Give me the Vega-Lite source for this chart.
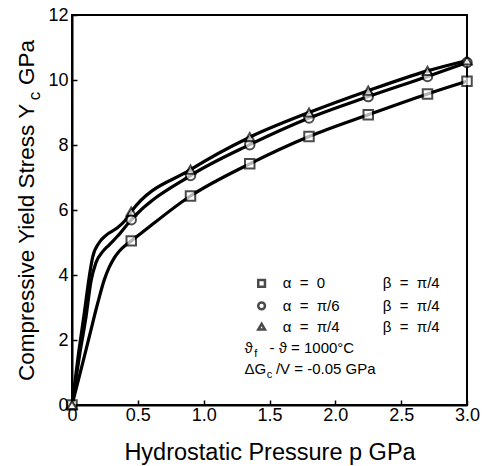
{
  "$schema": "https://vega.github.io/schema/vega-lite/v6.json",
  "width": 395,
  "height": 390,
  "autosize": "none",
  "padding": {"left": 72, "top": 15, "right": 15, "bottom": 61},
  "background": "white",
  "config": {
    "view": {"stroke": "black", "strokeWidth": 2},
    "font": "Liberation Sans",
    "axis": {
      "domainColor": "black", "domainWidth": 2,
      "tickColor": "black", "tickWidth": 1.5, "tickSize": -5,
      "labelFont": "Liberation Sans", "labelFontSize": 18, "labelColor": "black",
      "titleFont": "Liberation Sans", "titleFontWeight": "normal", "titleColor": "black",
      "grid": false
    }
  },
  "datasets": {
    "curves": [
      {"s": "a0", "p": 0, "y": 0}, {"s": "a0", "p": 0.068, "y": 1.08}, {"s": "a0", "p": 0.131, "y": 2.1}, {"s": "a0", "p": 0.195, "y": 3.13}, {"s": "a0", "p": 0.245, "y": 3.85}, {"s": "a0", "p": 0.283, "y": 4.24}, {"s": "a0", "p": 0.32, "y": 4.52}, {"s": "a0", "p": 0.36, "y": 4.74}, {"s": "a0", "p": 0.42, "y": 4.96}, {"s": "a0", "p": 0.45, "y": 5.05}, {"s": "a0", "p": 0.9, "y": 6.43}, {"s": "a0", "p": 1.35, "y": 7.42}, {"s": "a0", "p": 1.8, "y": 8.26}, {"s": "a0", "p": 2.25, "y": 8.93}, {"s": "a0", "p": 2.7, "y": 9.57}, {"s": "a0", "p": 3.0, "y": 9.96},
      {"s": "a6", "p": 0, "y": 0}, {"s": "a6", "p": 0.06, "y": 1.6}, {"s": "a6", "p": 0.106, "y": 2.7}, {"s": "a6", "p": 0.144, "y": 3.8}, {"s": "a6", "p": 0.182, "y": 4.38}, {"s": "a6", "p": 0.233, "y": 4.72}, {"s": "a6", "p": 0.283, "y": 4.93}, {"s": "a6", "p": 0.347, "y": 5.2}, {"s": "a6", "p": 0.45, "y": 5.7}, {"s": "a6", "p": 0.9, "y": 7.06}, {"s": "a6", "p": 1.35, "y": 8.01}, {"s": "a6", "p": 1.8, "y": 8.83}, {"s": "a6", "p": 2.25, "y": 9.49}, {"s": "a6", "p": 2.7, "y": 10.11}, {"s": "a6", "p": 3.0, "y": 10.54},
      {"s": "a4", "p": 0, "y": 0}, {"s": "a4", "p": 0.05, "y": 1.6}, {"s": "a4", "p": 0.094, "y": 2.85}, {"s": "a4", "p": 0.131, "y": 3.95}, {"s": "a4", "p": 0.157, "y": 4.55}, {"s": "a4", "p": 0.207, "y": 5.0}, {"s": "a4", "p": 0.258, "y": 5.22}, {"s": "a4", "p": 0.334, "y": 5.42}, {"s": "a4", "p": 0.4, "y": 5.66}, {"s": "a4", "p": 0.45, "y": 5.95}, {"s": "a4", "p": 0.9, "y": 7.24}, {"s": "a4", "p": 1.35, "y": 8.24}, {"s": "a4", "p": 1.8, "y": 9.0}, {"s": "a4", "p": 2.25, "y": 9.67}, {"s": "a4", "p": 2.7, "y": 10.28}, {"s": "a4", "p": 3.0, "y": 10.6}
    ],
    "markers": [
      {"s": "a0", "p": 0, "y": 0}, {"s": "a0", "p": 0.45, "y": 5.05}, {"s": "a0", "p": 0.9, "y": 6.43}, {"s": "a0", "p": 1.35, "y": 7.42}, {"s": "a0", "p": 1.8, "y": 8.26}, {"s": "a0", "p": 2.25, "y": 8.93}, {"s": "a0", "p": 2.7, "y": 9.57}, {"s": "a0", "p": 3.0, "y": 9.96},
      {"s": "a6", "p": 0.45, "y": 5.7}, {"s": "a6", "p": 0.9, "y": 7.06}, {"s": "a6", "p": 1.35, "y": 8.01}, {"s": "a6", "p": 1.8, "y": 8.83}, {"s": "a6", "p": 2.25, "y": 9.49}, {"s": "a6", "p": 2.7, "y": 10.11}, {"s": "a6", "p": 3.0, "y": 10.54},
      {"s": "a4", "p": 0, "y": 0}, {"s": "a4", "p": 0.45, "y": 5.95}, {"s": "a4", "p": 0.9, "y": 7.24}, {"s": "a4", "p": 1.35, "y": 8.24}, {"s": "a4", "p": 1.8, "y": 9.0}, {"s": "a4", "p": 2.25, "y": 9.67}, {"s": "a4", "p": 2.7, "y": 10.28}, {"s": "a4", "p": 3.0, "y": 10.6}
    ],
    "legendSymbols": [
      {"s": "a0", "p": 1.44, "y": 3.74},
      {"s": "a6", "p": 1.44, "y": 3.05},
      {"s": "a4", "p": 1.44, "y": 2.41}
    ],
    "legendText": [
      {"p": 1.6, "y": 3.74, "label": "α\u00a0\u00a0=\u00a0\u00a00"},
      {"p": 1.6, "y": 3.05, "label": "α\u00a0\u00a0=\u00a0\u00a0π/6"},
      {"p": 1.6, "y": 2.41, "label": "α\u00a0\u00a0=\u00a0\u00a0π/4"},
      {"p": 2.36, "y": 3.74, "label": "β\u00a0\u00a0=\u00a0\u00a0π/4"},
      {"p": 2.36, "y": 3.05, "label": "β\u00a0\u00a0=\u00a0\u00a0π/4"},
      {"p": 2.36, "y": 2.41, "label": "β\u00a0\u00a0=\u00a0\u00a0π/4"},
      {"p": 1.31, "y": 1.74, "label": "ϑ"},
      {"p": 1.5, "y": 1.74, "label": "-\u00a0ϑ\u00a0=\u00a01000°C"},
      {"p": 1.31, "y": 1.1, "label": "ΔG"},
      {"p": 1.549, "y": 1.1, "label": "/V\u00a0=\u00a0-0.05\u00a0GPa"}
    ],
    "subText": [
      {"p": 1.385, "y": 1.58, "label": "f"},
      {"p": 1.48, "y": 0.92, "label": "c"}
    ],
    "titleSub": [
      {"p": -0.281, "y": 9.51, "label": "c"}
    ]
  },
  "layer": [
    {
      "data": {"name": "curves"},
      "mark": {"type": "line", "color": "black", "strokeWidth": 3.2, "interpolate": "monotone"},
      "encoding": {
        "x": {"field": "p", "type": "quantitative", "scale": {"domain": [0, 3], "nice": false},
          "axis": {"values": [0, 0.5, 1, 1.5, 2, 2.5, 3], "labelExpr": "datum.value == 0 ? '0' : format(datum.value, '.1f')", "title": "Hydrostatic Pressure p GPa", "titleFontSize": 23.5, "labelPadding": 6, "titlePadding": 16, "labelFlush": false}},
        "y": {"field": "y", "type": "quantitative", "scale": {"domain": [0, 12], "nice": false},
          "axis": {"values": [0, 2, 4, 6, 8, 10, 12], "title": "Compressive Yield Stress Y\u00a0\u00a0\u00a0GPa", "titleFontSize": 22.5, "labelPadding": 9, "titlePadding": 9}},
        "detail": {"field": "s"}
      }
    },
    {
      "data": {"name": "markers"},
      "mark": {"type": "point", "filled": true, "fill": "white", "stroke": "black", "strokeWidth": 2, "size": 90},
      "encoding": {
        "x": {"field": "p", "type": "quantitative"},
        "y": {"field": "y", "type": "quantitative"},
        "shape": {"field": "s", "type": "nominal", "scale": {"domain": ["a0", "a6", "a4"], "range": ["square", "circle", "triangle-up"]}, "legend": null}
      }
    },
    {
      "data": {"name": "legendSymbols"},
      "mark": {"type": "point", "filled": true, "fill": "white", "stroke": "black", "strokeWidth": 2.5, "size": 45},
      "encoding": {
        "x": {"field": "p", "type": "quantitative"},
        "y": {"field": "y", "type": "quantitative"},
        "shape": {"field": "s", "type": "nominal", "legend": null}
      }
    },
    {
      "data": {"name": "legendText"},
      "mark": {"type": "text", "align": "left", "baseline": "middle", "fontSize": 15, "color": "black", "font": "Liberation Sans"},
      "encoding": {
        "x": {"field": "p", "type": "quantitative"},
        "y": {"field": "y", "type": "quantitative"},
        "text": {"field": "label"}
      }
    },
    {
      "data": {"name": "subText"},
      "mark": {"type": "text", "align": "left", "baseline": "middle", "fontSize": 11, "color": "black", "font": "Liberation Sans"},
      "encoding": {
        "x": {"field": "p", "type": "quantitative"},
        "y": {"field": "y", "type": "quantitative"},
        "text": {"field": "label"}
      }
    },
    {
      "data": {"name": "titleSub"},
      "mark": {"type": "text", "align": "center", "baseline": "middle", "fontSize": 17, "color": "black", "angle": 270, "font": "Liberation Sans"},
      "encoding": {
        "x": {"field": "p", "type": "quantitative"},
        "y": {"field": "y", "type": "quantitative"},
        "text": {"field": "label"}
      }
    }
  ]
}
